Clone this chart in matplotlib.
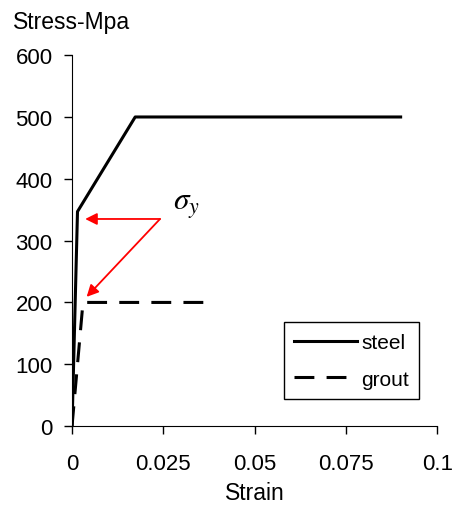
import matplotlib
matplotlib.use("Agg")
import matplotlib.pyplot as plt

plt.rcParams['font.family'] = ['Liberation Sans', 'DejaVu Sans']
plt.rcParams['mathtext.fontset'] = 'stix'

# stress-strain curves (strain, stress in MPa)
steel_strain = [0.0, 0.0015, 0.0173, 0.09]
steel_stress = [0, 347, 500, 500]
grout_strain = [0.0, 0.003, 0.0375]
grout_stress = [0, 200, 200]

x_ticks = [0, 0.025, 0.05, 0.075, 0.1]
x_labels = ['0', '0.025', '0.05', '0.075', '0.1']
y_ticks = [0, 100, 200, 300, 400, 500, 600]

fig = plt.figure(figsize=(4.53, 5.06), dpi=100)
ax = fig.add_axes([0.159, 0.156, 0.806, 0.733])

ax.plot(steel_strain, steel_stress, color='black', lw=2.2, label='steel')
ax.plot(grout_strain, grout_stress, color='black', lw=2.2,
        dashes=(6.5, 4), label='grout')

# yield point arrows
tail = (0.0241, 335)
arrow = dict(arrowstyle='-|>,head_length=0.5,head_width=0.25', color='red',
             lw=1.3, mutation_scale=14, shrinkA=0, shrinkB=0)
ax.annotate('', xy=(0.0036, 335), xytext=tail, arrowprops=arrow)
ax.annotate('', xy=(0.0040, 209), xytext=tail, arrowprops=arrow)
ax.text(0.0277, 352, r'$\sigma_y$', fontsize=22.5, color='black', va='baseline')

ax.set_xlim(0, 0.1)
ax.set_ylim(0, 600)
ax.set_xticks(x_ticks)
ax.set_xticklabels(x_labels)
ax.set_yticks(y_ticks)
ax.tick_params(labelsize=16, direction='out', length=5.5, width=1)
ax.tick_params(axis='x', pad=14)
ax.tick_params(axis='y', pad=8.5)
for s in ['top', 'right']:
    ax.spines[s].set_visible(False)

ax.set_xlabel('Strain', fontsize=16.5, labelpad=5)
fig.text(0.029, 1 - 29 / 506, 'Stress-Mpa', fontsize=16.5, ha='left', va='baseline')

leg = ax.legend(loc='lower right', bbox_to_anchor=(0.951, 0.073), fontsize=15,
                fancybox=False, edgecolor='black', framealpha=1,
                handlelength=3.0, borderpad=0.5, labelspacing=0.85,
                handletextpad=0.2, borderaxespad=0)
leg.get_frame().set_linewidth(1.0)

fig.savefig('out.png', dpi=100)
